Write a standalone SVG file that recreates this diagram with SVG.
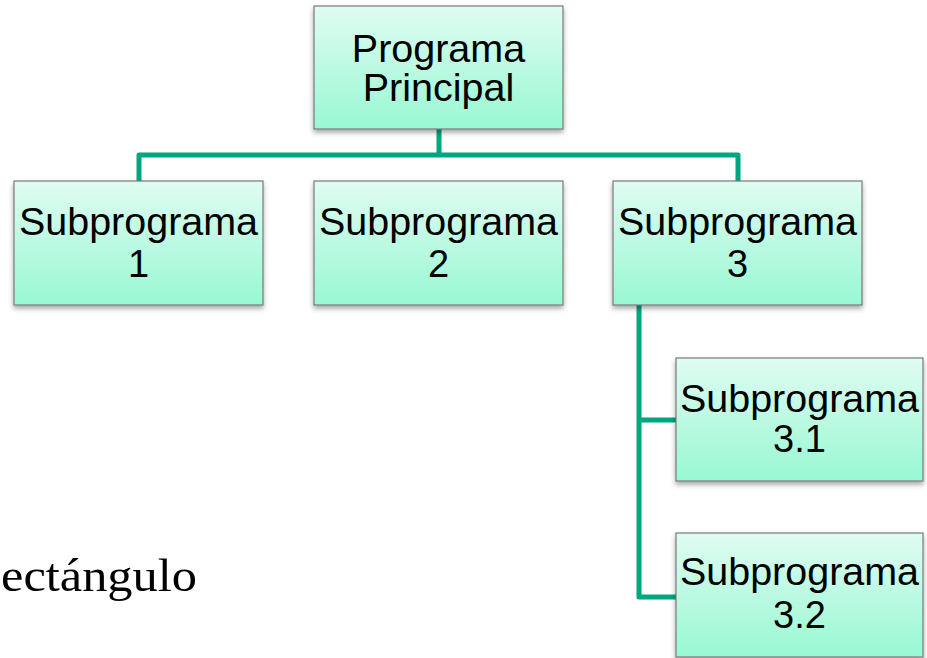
<svg xmlns="http://www.w3.org/2000/svg" width="927" height="658" viewBox="0 0 927 658">
<style>
.box{fill:url(#g);stroke:#7a7a7a;stroke-width:1.2;filter:url(#sh)}
.t{font-family:"Liberation Sans",Arial,sans-serif;font-size:38px;fill:#000;text-anchor:middle}
.big{font-size:39.5px}
.c{fill:none;stroke:#00A67E;stroke-width:5;stroke-linejoin:round}
</style>
<defs>
<linearGradient id="g" x1="0" y1="0" x2="0" y2="1">
<stop offset="0" stop-color="#e0fcf1"/>
<stop offset="1" stop-color="#98f8d4"/>
</linearGradient>
<filter id="sh" x="-10%" y="-10%" width="120%" height="130%">
<feDropShadow dx="0" dy="3" stdDeviation="2.5" flood-color="#000" flood-opacity="0.35"/>
</filter>
</defs>
<g id="connectors">
<path class="c" d="M439 129 V155 M139 181 V155 H738 V181"/>
<path class="c" d="M639 305 V597 H676 M639 420 H676"/>
</g>
<g id="principal">
<rect class="box" x="314" y="6" width="249" height="123"/>
<text class="t big" x="438.5" y="62">Programa</text>
<text class="t big" x="438.5" y="101">Principal</text>
</g>
<g id="sub1">
<rect class="box" x="14" y="181" width="249" height="124"/>
<text class="t" x="138.5" y="235" textLength="239" lengthAdjust="spacingAndGlyphs">Subprograma</text>
<text class="t" x="138.5" y="277">1</text>
</g>
<g id="sub2">
<rect class="box" x="314" y="181" width="249" height="124"/>
<text class="t" x="438.5" y="235" textLength="239" lengthAdjust="spacingAndGlyphs">Subprograma</text>
<text class="t" x="438.5" y="277">2</text>
</g>
<g id="sub3">
<rect class="box" x="613" y="181" width="249" height="124"/>
<text class="t" x="737.5" y="235" textLength="239" lengthAdjust="spacingAndGlyphs">Subprograma</text>
<text class="t" x="737.5" y="277">3</text>
</g>
<g id="sub31">
<rect class="box" x="676" y="358" width="247" height="123"/>
<text class="t" x="799.5" y="412" textLength="239" lengthAdjust="spacingAndGlyphs">Subprograma</text>
<text class="t" x="799.5" y="452">3.1</text>
</g>
<g id="sub32">
<rect class="box" x="676" y="533" width="247" height="124"/>
<text class="t" x="799.5" y="585" textLength="239" lengthAdjust="spacingAndGlyphs">Subprograma</text>
<text class="t" x="799.5" y="628">3.2</text>
</g>
<text x="1" y="591" font-family="'Liberation Serif','Times New Roman',serif" font-size="46" textLength="196" lengthAdjust="spacingAndGlyphs" fill="#000">ectángulo</text>
</svg>
